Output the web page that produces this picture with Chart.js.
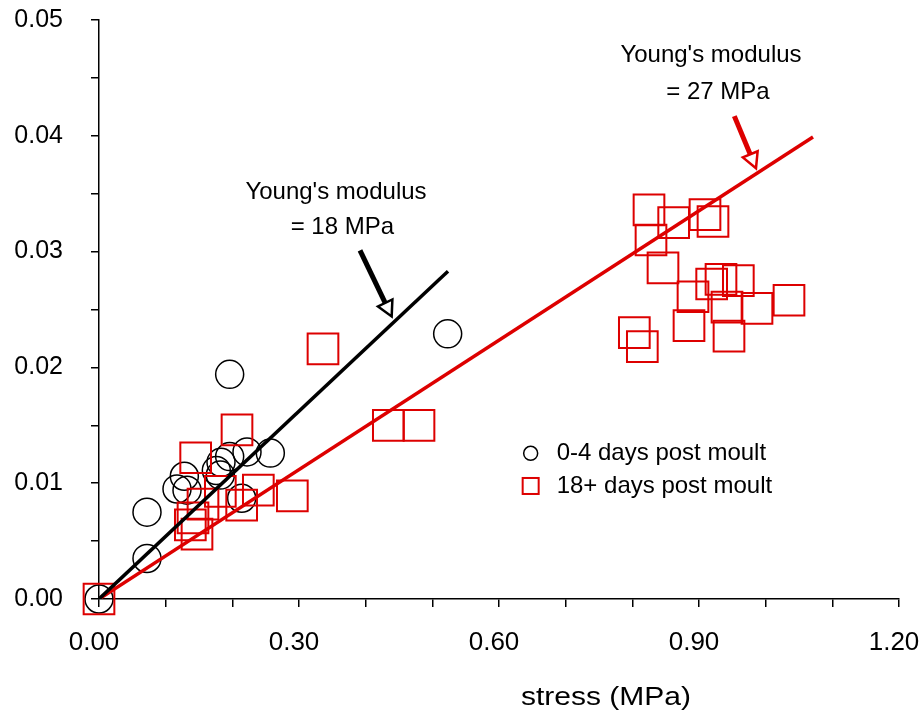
<!DOCTYPE html>
<html>
<head>
<meta charset="utf-8">
<script src="https://cdn.jsdelivr.net/npm/chart.js@4"></script>
<style>
  html, body { margin: 0; padding: 0; background: #fff; }
  #wrap { width: 924px; height: 715px; }
</style>
</head>
<body>
<div id="wrap"><canvas id="myChart" width="924" height="715"></canvas></div>
<script>
// 0-4 days post moult (circles)
const softStress = [0, 0.072, 0.072, 0.117, 0.128, 0.132, 0.176, 0.182, 0.183, 0.196, 0.222, 0.257, 0.214, 0.196, 0.523];
const softStrain = [0, 0.0035, 0.0075, 0.0095, 0.0106, 0.0094, 0.0111, 0.0107, 0.0118, 0.0123, 0.0127, 0.0126, 0.0087, 0.0194, 0.0229];

// 18+ days post moult (squares)
const hardStress = [0, 0.145, 0.207, 0.336, 0.239, 0.290, 0.214, 0.182, 0.156, 0.141, 0.137, 0.147,
  0.434, 0.480,
  0.825, 0.862, 0.909, 0.921, 0.828, 0.846, 0.919, 0.933, 0.959, 0.891, 0.942, 0.987, 1.035, 0.885, 0.945, 0.803, 0.815];
const hardStrain = [0, 0.0122, 0.0146, 0.0216, 0.0094, 0.0089, 0.0081, 0.0093, 0.0082, 0.0070, 0.0064, 0.0056,
  0.0150, 0.0150,
  0.0336, 0.0325, 0.0332, 0.0326, 0.0310, 0.0286, 0.0272, 0.0276, 0.0275, 0.0261, 0.0252, 0.0251, 0.0258, 0.0236, 0.0227, 0.0230, 0.0218];

// fitted lines
const softFitX = [0, 0.5235];
const softFitY = [0, 0.0283];
const hardFitX = [0, 1.071];
const hardFitY = [0, 0.0399];

const legendLabels = ['0-4 days post moult', '18+ days post moult'];
const xTitle = 'stress (MPa)';

const RED = 'rgb(221,0,0)';
const FONT = '"Liberation Sans", Arial, sans-serif';

const toPoints = (xs, ys) => xs.map((x, i) => ({ x: x, y: ys[i] }));

// arrows + labels, given in data units
const notes = [
  { lines: ["Young's modulus", '= 18 MPa'], pos: [[0.3555, 0.03515], [0.365, 0.0321]],
    tail: [0.3915, 0.0301], tip: [0.439, 0.0244], color: '#000' },
  { lines: ["Young's modulus", '= 27 MPa'], pos: [[0.918, 0.04698], [0.9285, 0.04378]],
    tail: [0.953, 0.0417], tip: [0.9855, 0.0372], color: RED }
];

function drawArrow(ctx, x1, y1, x2, y2, color) {
  const ang = Math.atan2(y2 - y1, x2 - x1);
  const headLen = 15, headW = 8;
  const bx = x2 - headLen * Math.cos(ang), by = y2 - headLen * Math.sin(ang);
  ctx.save();
  ctx.strokeStyle = color;
  ctx.lineWidth = 5;
  ctx.beginPath();
  ctx.moveTo(x1, y1);
  ctx.lineTo(bx, by);
  ctx.stroke();
  ctx.beginPath();
  ctx.moveTo(x2, y2);
  ctx.lineTo(bx + headW * Math.sin(ang), by - headW * Math.cos(ang));
  ctx.lineTo(bx - headW * Math.sin(ang), by + headW * Math.cos(ang));
  ctx.closePath();
  ctx.fillStyle = '#fff';
  ctx.fill();
  ctx.lineWidth = 2.5;
  ctx.lineJoin = 'miter';
  ctx.stroke();
  ctx.restore();
}

const extras = {
  id: 'extras',
  afterDraw(chart) {
    const ctx = chart.ctx;
    const xs = chart.scales.x, ys = chart.scales.y;
    const px = v => xs.getPixelForValue(v);
    const py = v => ys.getPixelForValue(v);

    ctx.save();
    ctx.fillStyle = '#000';
    ctx.textAlign = 'center';
    ctx.textBaseline = 'middle';
    ctx.font = '24px ' + FONT;
    notes.forEach(n => {
      n.lines.forEach((t, i) => ctx.fillText(t, px(n.pos[i][0]), py(n.pos[i][1])));
      drawArrow(ctx, px(n.tail[0]), py(n.tail[1]), px(n.tip[0]), py(n.tip[1]), n.color);
    });

    // legend
    const lx = px(0.6475), tx = px(0.6865);
    const l1 = py(0.01258), l2 = py(0.00976);
    ctx.lineWidth = 1.5;
    ctx.strokeStyle = '#000';
    ctx.beginPath();
    ctx.arc(lx, l1, 7, 0, Math.PI * 2);
    ctx.stroke();
    ctx.lineWidth = 2;
    ctx.strokeStyle = RED;
    ctx.strokeRect(lx - 8, l2 - 8, 16, 16);
    ctx.textAlign = 'left';
    ctx.font = '24px ' + FONT;
    ctx.fillStyle = '#000';
    ctx.fillText(legendLabels[0], tx, l1);
    ctx.fillText(legendLabels[1], tx, l2);

    // x axis title
    ctx.translate(606, 705);
    ctx.scale(1.2, 1);
    ctx.textAlign = 'center';
    ctx.textBaseline = 'alphabetic';
    ctx.font = '25px ' + FONT;
    ctx.fillText(xTitle, 0, 0);
    ctx.restore();
  }
};

function noPad(s) {
  s.paddingTop = 0;
  s.paddingBottom = 0;
  s.paddingLeft = 0;
  s.paddingRight = 0;
}

new Chart(document.getElementById('myChart'), {
  type: 'scatter',
  data: {
    datasets: [
      {
        type: 'line',
        data: toPoints(softFitX, softFitY),
        borderColor: '#000',
        borderWidth: 3.5,
        pointRadius: 0,
        fill: false,
        order: 0
      },
      {
        type: 'line',
        data: toPoints(hardFitX, hardFitY),
        borderColor: RED,
        borderWidth: 3.5,
        pointRadius: 0,
        fill: false,
        order: 0
      },
      {
        label: legendLabels[0],
        data: toPoints(softStress, softStrain),
        pointStyle: 'circle',
        pointRadius: 14,
        borderColor: '#000',
        backgroundColor: 'rgba(0,0,0,0)',
        borderWidth: 1.5,
        clip: false,
        order: 2
      },
      {
        label: legendLabels[1],
        data: toPoints(hardStress, hardStrain),
        pointStyle: 'rect',
        pointRadius: 21.7,
        borderColor: RED,
        backgroundColor: 'rgba(0,0,0,0)',
        borderWidth: 2,
        clip: false,
        order: 1
      }
    ]
  },
  options: {
    responsive: false,
    animation: false,
    events: [],
    layout: { autoPadding: false, padding: { top: 20, right: 25, left: 0, bottom: 0 } },
    plugins: { legend: { display: false }, tooltip: { enabled: false } },
    scales: {
      x: {
        type: 'linear',
        min: 0,
        max: 1.2,
        afterFit: s => { s.height = 116; noPad(s); },
        border: { display: true, color: '#000', width: 1.5 },
        grid: { drawOnChartArea: false, drawTicks: true, tickLength: 8, color: '#000', lineWidth: 1.5 },
        ticks: {
          stepSize: 0.1,
          padding: 20,
          labelOffset: -5,
          color: '#000',
          font: { family: FONT, size: 26 },
          maxRotation: 0,
          autoSkip: false,
          callback: v => (Math.round(v * 10) % 3 === 0 ? v.toFixed(2) : '')
        }
      },
      y: {
        type: 'linear',
        min: 0,
        max: 0.05,
        afterFit: s => { s.width = 99; noPad(s); },
        border: { display: true, color: '#000', width: 1.5 },
        grid: { drawOnChartArea: false, drawTicks: true, tickLength: 8, color: '#000', lineWidth: 1.5 },
        ticks: {
          stepSize: 0.005,
          padding: 28,
          color: '#000',
          font: { family: FONT, size: 25 },
          autoSkip: false,
          callback: v => (Math.round(v * 1000) % 10 === 0 ? v.toFixed(2) : '')
        }
      }
    }
  },
  plugins: [extras]
});
</script>
</body>
</html>
